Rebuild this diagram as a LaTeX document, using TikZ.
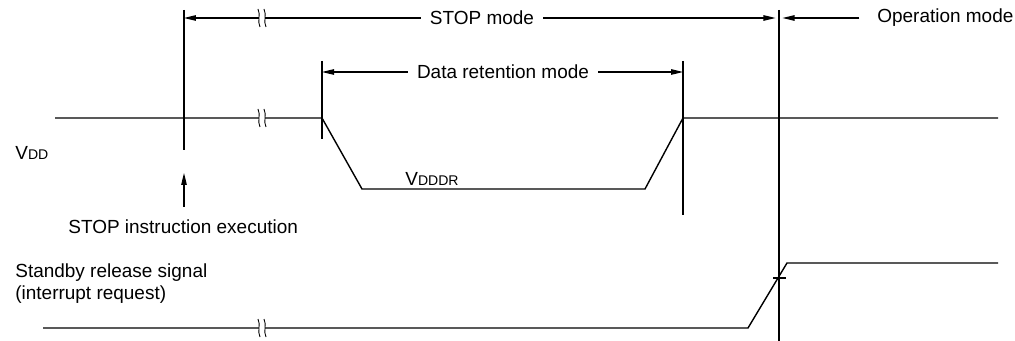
\documentclass[tikz,border=0pt]{standalone}
\usepackage{fontspec}
\setmainfont{Liberation Sans}
\usetikzlibrary{positioning, arrows.meta}

\begin{document}
\begin{tikzpicture}[
  x=0.02cm, y=-0.02cm,
  lbl/.style={font=\fontsize{10.8}{13}\selectfont, inner sep=0pt},
  wave/.style={line width=0.8pt},
  dim/.style={line width=0.7pt, -{Triangle[length=2.4mm, width=1.1mm]}},
  tmark/.style={line width=0.7pt},
  brk/.pic={
    \fill[white] (-3,-9) rectangle (3,9);
    \foreach \dx in {-3,3}
      \draw[line width=0.5pt] (\dx-1,-9) .. controls (\dx+2,-3) and (\dx-2,3) .. (\dx+1,9);
  }
]
  \useasboundingbox (0,0) rectangle (1015,341);

  % time marks
  \coordinate (stopT) at (184,10);
  \coordinate (stopB) at (184,150);
  \coordinate (retL) at (322,61);
  \coordinate (retLB) at (322,139);
  \coordinate (retR) at (683,61);
  \coordinate (retRB) at (683,215);
  \coordinate (relT) at (779,10);
  \coordinate (relB) at (779,341);
  \draw[tmark] (stopT) -- (stopB);
  \draw[tmark] (retL) -- (retLB);
  \draw[tmark] (retR) -- (retRB);
  \draw[tmark] (relT) -- (relB);

  % mode labels
  \node[lbl, inner xsep=5pt] (stopmode) at (482,18) {STOP mode};
  \node[lbl, inner xsep=5pt] (retmode) at (503,72) {Data retention mode};
  \node[lbl, anchor=west] (opmode) at (877,18) {Operation mode};
  \draw[dim] (stopmode.west) -- (stopT |- stopmode);
  \draw[dim] (stopmode.east) -- ([xshift=-2]relT |- stopmode);
  \draw[dim] ([xshift=-10]opmode.west) -- ([xshift=2]relT |- opmode);
  \draw[dim] (retmode.west) -- (retL |- retmode);
  \draw[dim] (retmode.east) -- (retR |- retmode);
  \pic at (262,18) {brk};

  % VDD
  \node[lbl, anchor=base west] (vdd) at (15,160) {V{\fontsize{8}{9}\selectfont DD}};
  \draw[wave] (55,118) -- (322,118) -- (362,189) -- (645,189) -- (683,118) -- (998,118);
  \pic at (262,118) {brk};
  \node[lbl, anchor=base west] (vdddr) at (405,186) {V{\fontsize{8}{9}\selectfont DDDR}};

  % STOP instruction
  \node[lbl, anchor=west] (exe) at (68,227) {STOP instruction execution};
  \coordinate (exebase) at (184,207);
  \coordinate (exetip) at (184,173);
  \draw[dim] (exebase) -- (exetip);

  % standby release
  \node[lbl, anchor=north west, align=left] (rel) at (15,263) {Standby release signal\\(interrupt request)};
  \draw[wave] (43,328) -- (748,328) -- (787,263) -- (998,263);
  \pic at (262,328) {brk};
  \draw[tmark] (773,278) -- (786,278);
\end{tikzpicture}
\end{document}
